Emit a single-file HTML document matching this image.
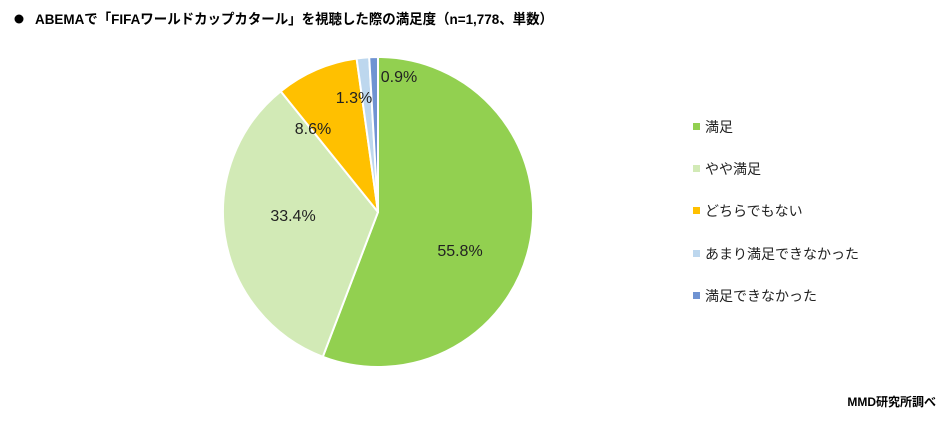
<!DOCTYPE html>
<html><head><meta charset="utf-8"><style>
body{margin:0;width:949px;height:416px;background:#fff;overflow:hidden;font-family:"Liberation Sans","Noto Sans CJK JP",sans-serif;}
</style></head><body>
<svg width="949" height="416" viewBox="0 0 949 416" xmlns="http://www.w3.org/2000/svg" font-family="Liberation Sans, Noto Sans CJK JP, sans-serif">
<circle cx="19" cy="19" r="4.5" fill="#000"/>
<text x="35" y="24" font-size="14" font-weight="bold" fill="#000" textLength="518" lengthAdjust="spacingAndGlyphs">ABEMAで「FIFAワールドカップカタール」を視聴した際の満足度（n=1,778、単数）</text>
<g stroke="#fff" stroke-width="2" stroke-linejoin="round">
<path d="M378,212 L378,57 A155,155 0 1,1 322.8,356.8 Z" fill="#92D050"/>
<path d="M378,212 L322.8,356.8 A155,155 0 0,1 280.7,91.3 Z" fill="#D2EAB6"/>
<path d="M378,212 L280.7,91.3 A155,155 0 0,1 356.6,58.5 Z" fill="#FFC000"/>
<path d="M378,212 L356.6,58.5 A155,155 0 0,1 369.2,57.2 Z" fill="#BDD7EE"/>
<path d="M378,212 L369.2,57.2 A155,155 0 0,1 378,57 Z" fill="#6F93D2"/>
</g>
<g font-size="16" fill="#222" text-anchor="middle">
<text x="460" y="256">55.8%</text>
<text x="293" y="221">33.4%</text>
<text x="313" y="134">8.6%</text>
<text x="354" y="103">1.3%</text>
<text x="399" y="82">0.9%</text>
</g>
<g font-size="14" fill="#222">
<rect x="693" y="123" width="7" height="7" fill="#92D050"/><text x="705" y="132">満足</text>
<rect x="693" y="165" width="7" height="7" fill="#D2EAB6"/><text x="705" y="174">やや満足</text>
<rect x="693" y="207" width="7" height="7" fill="#FFC000"/><text x="705" y="216">どちらでもない</text>
<rect x="693" y="250" width="7" height="7" fill="#BDD7EE"/><text x="705" y="259">あまり満足できなかった</text>
<rect x="693" y="292" width="7" height="7" fill="#6F93D2"/><text x="705" y="301">満足できなかった</text>
</g>
<text x="936" y="406" font-size="12" font-weight="bold" fill="#000" text-anchor="end">MMD研究所調べ</text>
</svg>
</body></html>
